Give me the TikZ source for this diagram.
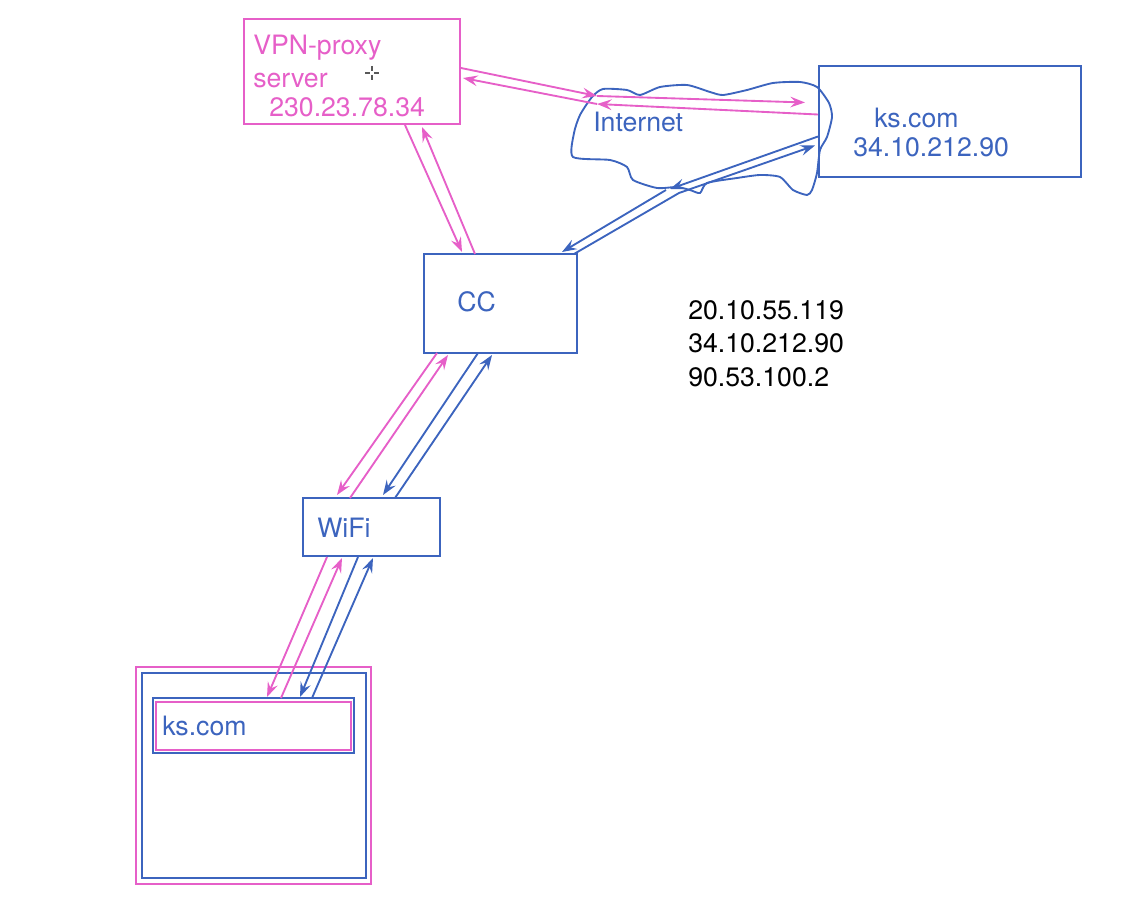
\documentclass[tikz,border=0pt]{standalone}
\usepackage{fontspec}
\setmainfont{TeX Gyre Heros}
\usetikzlibrary{arrows.meta,calc}
\definecolor{pk}{RGB}{230,95,200}
\definecolor{bl}{RGB}{60,100,190}
\tikzset{
  box/.style={draw, line width=1.5pt, inner sep=0pt, outer sep=0pt, rectangle},
  lbl/.style={anchor=base west, inner sep=0pt, font=\fontsize{20}{24}\selectfont},
  arr/.style={line width=1.4pt, -{Stealth[length=11pt,width=8pt,inset=4pt]}},
}
\begin{document}
\begin{tikzpicture}[x=0.75pt,y=-0.75pt]
\useasboundingbox (0,0) rectangle (1131,912);
% boxes
\node[box,pk,minimum width={216*0.75pt},minimum height={105*0.75pt}] (vpn) at (352,71.5) {};
\node[box,bl,minimum width={262*0.75pt},minimum height={111*0.75pt}] (ks) at (950,121.5) {};
\node[box,bl,minimum width={153*0.75pt},minimum height={99*0.75pt}] (cc) at (500.5,303.5) {};
\node[box,bl,minimum width={137*0.75pt},minimum height={58*0.75pt}] (wifi) at (371.5,527) {};
\node[box,pk,minimum width={235*0.75pt},minimum height={217*0.75pt}] (devo) at (253.5,775.5) {};
\node[box,bl,minimum width={224*0.75pt},minimum height={205*0.75pt}] (dev) at (254,775.5) {};
\node[box,bl,minimum width={201*0.75pt},minimum height={55*0.75pt}] (tab) at (253.5,725.5) {};
\node[box,pk,line width=1.2pt,minimum width={195*0.75pt},minimum height={48*0.75pt}] (tabi) at (253.5,726) {};
% cloud
\draw[bl,line width=1.4pt] plot[smooth cycle,tension=0.4] coordinates {
 (573,157) (574,133) (580,115) (592,97) (603,89) (627,90) (640,95) (660,87) (687,85)
 (710,92) (723,95) (747,90) (773,83) (800,82) (817,87) (829,103) (832,117)
 (827,137) (820,150) (817,173) (812,190) (807,195) (793,190) (780,177)
 (760,175) (737,178) (707,183) (700,193) (690,190) (677,187) (657,188)
 (633,180) (627,167) (610,160)};
% texts
\node[lbl,pk] (t1) at (253,55) {VPN-proxy};
\node[lbl,pk] (t2) at (253,88) {server};
\node[lbl,pk] (t3) at (269,117) {230.23.78.34};
\node[lbl,bl] (t4) at (593,132) {Internet};
\node[lbl,bl] (t5) at (874,128) {ks.com};
\node[lbl,bl] (t6) at (853,157) {34.10.212.90};
\node[lbl,bl] (t7) at (457,312) {CC};
\node[lbl,bl] (t8) at (317,537) {WiFi};
\node[lbl,bl] (t9) at (162,735) {ks.com};
\node[lbl,black] (ip1) at (688,320) {20.10.55.119};
\node[lbl,black] (ip2) at (688,353) {34.10.212.90};
\node[lbl,black] (ip3) at (688,387) {90.53.100.2};
% cursor
\draw[black!65,line width=0.8pt] (365,73) -- (370,73) (374,73) -- (379,73) (372,66) -- (372,71) (372,75) -- (372,80);
% bend points on the cloud
\coordinate (c1) at (597,96);
\coordinate (c2) at (597,104);
\coordinate (c3) at (670,189);
\coordinate (c4) at (679,193);
% VPN <-> ks.com through Internet
\draw[arr,pk] ($(vpn.east)+(1,-3.5)$) -- (c1);
\draw[arr,pk] (c1) -- ($(ks.west)+(-14,-19)$);
\draw[arr,pk] ($(ks.west)+(-1,-7)$) -- (c2);
\draw[arr,pk] (c2) -- ($(vpn.east)+(3,6.5)$);
% ks.com <-> CC
\draw[arr,bl] ($(ks.west)+(-1,15)$) -- (c3);
\draw[arr,bl] ($(c3)+(-4,1)$) -- ($(cc.north east)+(-15,-2)$);
\draw[arr,bl] ($(cc.north east)+(-3,0)$) -- (c4) -- ($(ks.west)+(-4,24)$);
% VPN <-> CC
\draw[arr,pk] ($(vpn.south west)+(161,1)$) -- ($(cc.north west)+(38,-2)$);
\draw[arr,pk] ($(cc.north west)+(51,0)$) -- ($(vpn.south west)+(178,3)$);
% CC <-> WiFi
\draw[arr,pk] ($(cc.south west)+(13,0)$) -- ($(wifi.north west)+(34,-3)$);
\draw[arr,pk] ($(wifi.north west)+(47,0)$) -- ($(cc.south west)+(24,2)$);
\draw[arr,bl] ($(cc.south west)+(54,0)$) -- ($(wifi.north west)+(80,-3)$);
\draw[arr,bl] ($(wifi.north west)+(92,0)$) -- ($(cc.south west)+(68,2)$);
% WiFi <-> device
\draw[arr,pk] ($(wifi.south west)+(24,1)$) -- ($(tab.north west)+(114,-1)$);
\draw[arr,pk] ($(tab.north west)+(128,0)$) -- ($(wifi.south west)+(39,2)$);
\draw[arr,bl] ($(wifi.south west)+(55,1)$) -- ($(tab.north west)+(147,-1)$);
\draw[arr,bl] ($(tab.north west)+(159,0)$) -- ($(wifi.south west)+(70,2)$);
\end{tikzpicture}
\end{document}
